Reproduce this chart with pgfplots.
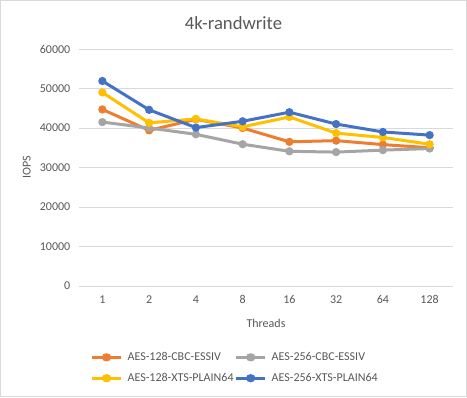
\documentclass[border=0pt]{standalone}
\usepackage{pgfplots}
\pgfplotsset{compat=1.18}
\usepackage{fontspec}
\setmainfont{Carlito}
\definecolor{cOrange}{HTML}{ED7D31}
\definecolor{cGray}{HTML}{A5A5A5}
\definecolor{cYellow}{HTML}{FFC000}
\definecolor{cBlue}{HTML}{4472C4}
\definecolor{txt}{HTML}{595959}
\definecolor{gridc}{HTML}{D9D9D9}
\pgfplotsset{ser/.style={line width=2.25pt, mark=*, mark size=1.9pt, color=#1, mark options={fill=#1, draw=#1}}}
\begin{document}
\begin{tikzpicture}
\draw[draw=gridc, line width=0.75pt, fill=white] (0.375pt,0.375pt) rectangle (349.875pt,297.375pt);
\path[use as bounding box] (0pt,0pt) rectangle (350.25pt,297.75pt);
\node[txt, font=\fontsize{14}{16}\selectfont] at (175.1pt,280.5pt) {4k-randwrite};
\begin{axis}[
  at={(59.25pt,83.25pt)}, anchor=south west,
  scale only axis, width=280.5pt, height=177.75pt,
  xmin=-0.5, xmax=7.5, ymin=0, ymax=60000,
  xtick={0,1,2,3,4,5,6,7}, xticklabels={1,2,4,8,16,32,64,128},
  ytick={0,10000,20000,30000,40000,50000,60000},
  scaled y ticks=false,
  /pgf/number format/assume math mode=true,
  yticklabel={\pgfmathprintnumber[fixed,use comma=false,1000 sep={}]{\tick}},
  tick label style={font=\fontsize{9}{10}\selectfont, text=txt},
  xticklabel style={yshift=-3.5pt},
  yticklabel style={xshift=-3pt},
  xmajorgrids=false, xminorgrids=false,
  ymajorgrids=true,
  every axis x grid/.style={draw=none},
  major x grid style={draw=none},
  major y grid style={draw=gridc, line width=0.75pt},
  axis line style={draw=none},
  every tick/.style={draw=none},
  major tick length=0pt, minor tick length=0pt,
  xlabel={Threads}, ylabel={IOPS},
  xlabel style={font=\fontsize{9}{10}\selectfont, text=txt, yshift=-4.5pt},
  ylabel style={font=\fontsize{9}{10}\selectfont, text=txt},
  legend columns=2,
  legend style={at={(0.417,-0.345)}, anchor=center, draw=none, fill=none,
    font=\fontsize{9}{10}\selectfont, text=txt, column sep=0pt, row sep=6pt,
    nodes={inner sep=1pt},
    /tikz/every odd column/.append style={column sep=3pt}},
  legend cell align=left,
  legend image post style={xscale=1.25},
]
\addplot[ser=cOrange] coordinates {(0,44700) (1,39400) (2,42200) (3,40000) (4,36500) (5,36800) (6,35800) (7,35000)};
\addlegendentry{AES-128-CBC-ESSIV}
\addplot[ser=cGray] coordinates {(0,41500) (1,40000) (2,38400) (3,35900) (4,34100) (5,33900) (6,34400) (7,34800)};
\addlegendentry{AES-256-CBC-ESSIV}
\addplot[ser=cYellow] coordinates {(0,49000) (1,41300) (2,42300) (3,40300) (4,42800) (5,38700) (6,37600) (7,35900)};
\addlegendentry{AES-128-XTS-PLAIN64}
\addplot[ser=cBlue] coordinates {(0,51900) (1,44600) (2,40100) (3,41700) (4,44000) (5,41000) (6,39000) (7,38200)};
\addlegendentry{AES-256-XTS-PLAIN64}
\end{axis}
\end{tikzpicture}
\end{document}
